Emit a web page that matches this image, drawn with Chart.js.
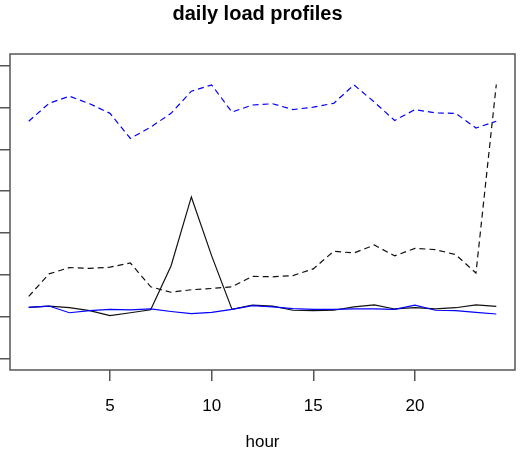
<!DOCTYPE html>
<html>
<head>
<meta charset="utf-8">
<title>daily load profiles</title>
<script src="https://cdn.jsdelivr.net/npm/chart.js@4/dist/chart.umd.min.js"></script>
<style>
  html, body { margin: 0; padding: 0; background: #fff; }
  #wrap { width: 527px; height: 461px; }
</style>
</head>
<body>
<div id="wrap"><canvas id="c" width="527" height="461"></canvas></div>
<script>
// Hour of day
const hours = [1, 2, 3, 4, 5, 6, 7, 8, 9, 10, 11, 12, 13, 14, 15, 16, 17, 18, 19, 20, 21, 22, 23, 24];

// Load profiles (one value per hour)
const blueDashed  = [5.67, 6.10, 6.27, 6.09, 5.86, 5.26, 5.53, 5.86, 6.39, 6.54, 5.89, 6.06,
                     6.09, 5.95, 6.01, 6.10, 6.54, 6.13, 5.69, 5.95, 5.87, 5.86, 5.51, 5.67];
const blackDashed = [1.48, 2.02, 2.17, 2.15, 2.18, 2.28, 1.71, 1.58, 1.64, 1.67, 1.71, 1.96,
                     1.95, 1.98, 2.14, 2.56, 2.52, 2.71, 2.45, 2.63, 2.60, 2.48, 2.04, 6.55];
const blackSolid  = [1.22, 1.25, 1.21, 1.14, 1.02, 1.09, 1.16, 2.21, 3.86, 2.45, 1.17, 1.27,
                     1.25, 1.15, 1.14, 1.15, 1.23, 1.28, 1.18, 1.21, 1.18, 1.21, 1.28, 1.24];
const blueSolid   = [1.22, 1.25, 1.09, 1.14, 1.17, 1.16, 1.18, 1.12, 1.07, 1.10, 1.17, 1.26,
                     1.23, 1.19, 1.17, 1.17, 1.18, 1.18, 1.17, 1.27, 1.15, 1.14, 1.10, 1.06];

// Axis ticks
const xTickValues = [5, 10, 15, 20];
const yTickValues = [0, 1, 2, 3, 4, 5, 6, 7];

const toPoints = (vals) => vals.map((v, i) => ({ x: hours[i], y: v }));

// Padded ranges (4% on each side, like a base-graphics plot)
const xSpan = hours[hours.length - 1] - hours[0];
const xMin = hours[0] - 0.04 * xSpan;
const xMax = hours[hours.length - 1] + 0.04 * xSpan;
const ySpan = yTickValues[yTickValues.length - 1] - yTickValues[0];
const yMin = yTickValues[0] - 0.04 * ySpan;
const yMax = yTickValues[yTickValues.length - 1] + 0.04 * ySpan;

// Frame around the plotting region
const framePlugin = {
  id: 'frame',
  afterDraw(chart) {
    const { ctx, chartArea: a } = chart;
    ctx.save();
    ctx.strokeStyle = '#555';
    ctx.lineWidth = 1.5;
    ctx.strokeRect(a.left, a.top, a.right - a.left, a.bottom - a.top);
    ctx.restore();
  }
};

const FONT = "'Liberation Sans', Arial, Helvetica, sans-serif";

new Chart(document.getElementById('c'), {
  type: 'line',
  data: {
    datasets: [
      { data: toPoints(blueSolid),   borderColor: '#0000ff', borderWidth: 1.2 },
      { data: toPoints(blackSolid),  borderColor: '#111111', borderWidth: 1.2 },
      { data: toPoints(blueDashed),  borderColor: '#0000ff', borderWidth: 1.2, borderDash: [6, 4] },
      { data: toPoints(blackDashed), borderColor: '#111111', borderWidth: 1.2, borderDash: [6, 4] }
    ]
  },
  options: {
    responsive: false,
    animation: false,
    devicePixelRatio: 1,
    layout: { padding: { left: 0, right: 12, top: 0, bottom: 0 } },
    elements: { point: { radius: 0 }, line: { tension: 0, fill: false } },
    plugins: {
      legend: { display: false },
      tooltip: { enabled: false },
      title: {
        display: true,
        text: 'daily load profiles',
        color: '#000',
        font: { family: FONT, size: 20, weight: 'bold', lineHeight: 1 },
        padding: { top: 4, bottom: 30 }
      }
    },
    scales: {
      x: {
        type: 'linear',
        min: xMin,
        max: xMax,
        afterBuildTicks: (s) => { s.ticks = xTickValues.map(v => ({ value: v })); },
        afterFit: (s) => { s.height = 91; },
        border: { display: false },
        grid: { drawOnChartArea: false, drawTicks: true, tickLength: 11, color: '#555', lineWidth: 1.5 },
        ticks: { color: '#000', font: { family: FONT, size: 17 }, padding: 15, maxRotation: 0 },
        title: {
          display: true,
          text: 'hour',
          color: '#000',
          font: { family: FONT, size: 17 },
          padding: { top: 0, bottom: 8 }
        }
      },
      y: {
        type: 'linear',
        min: yMin,
        max: yMax,
        afterBuildTicks: (s) => { s.ticks = yTickValues.map(v => ({ value: v })); },
        afterFit: (s) => { s.width = 10; },
        border: { display: false },
        grid: { drawOnChartArea: false, drawTicks: true, tickLength: 10, color: '#555', lineWidth: 1.5 },
        ticks: { display: false }
      }
    }
  },
  plugins: [framePlugin]
});
</script>
</body>
</html>
